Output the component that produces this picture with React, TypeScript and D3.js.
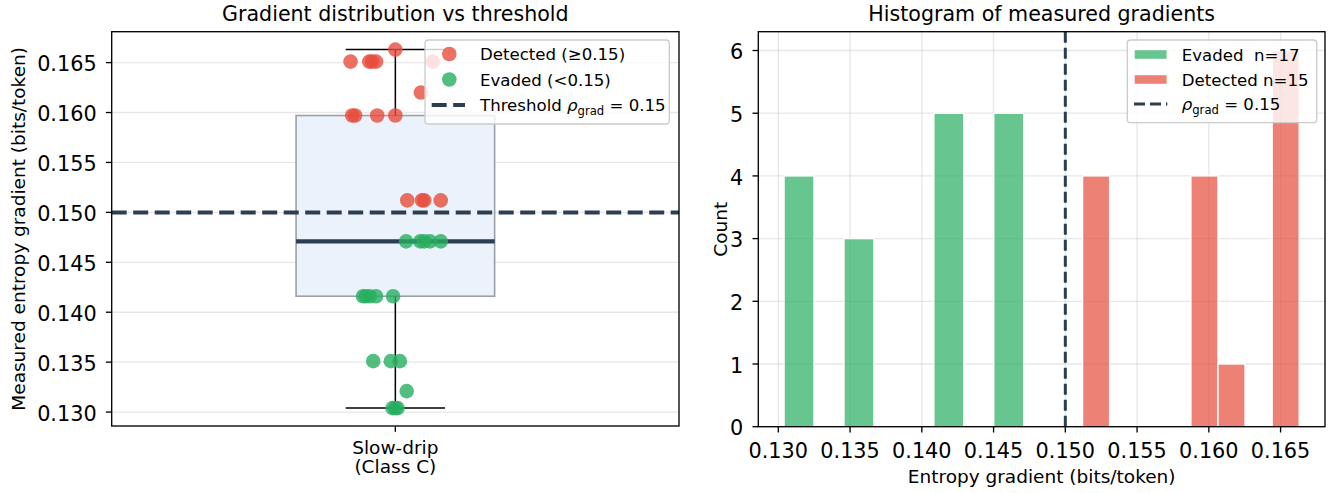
import React from "react";
import * as d3 from "d3";

// ---------------- data
const detectedVals = [0.1663, 0.1651, 0.1651, 0.1651, 0.1651, 0.1651, 0.1620, 0.1597, 0.1597, 0.1597, 0.1597, 0.1512, 0.1512, 0.1512, 0.1512];
const detectedJitter = [0.0, -0.079, -0.046, -0.041, -0.034, 0.066, 0.045, -0.076, -0.071, -0.032, 0.0, 0.021, 0.047, 0.051, 0.080];
const evadedVals = [0.1471, 0.1471, 0.1471, 0.1471, 0.1471, 0.1416, 0.1416, 0.1416, 0.1416, 0.1416, 0.1351, 0.1351, 0.1351, 0.1321, 0.1304, 0.1304, 0.1304];
const evadedJitter = [0.019, 0.044, 0.051, 0.061, 0.080, -0.057, -0.052, -0.045, -0.034, -0.004, -0.039, -0.008, 0.008, 0.020, -0.005, 0.0, 0.004];
const threshold = 0.15;
const gradTicks = [0.130, 0.135, 0.140, 0.145, 0.150, 0.155, 0.160, 0.165];
const countTicks = [0, 1, 2, 3, 4, 5, 6];
const histBins = 8;

// colours
const RED = "#e74c3c";
const GREEN = "#27ae60";
const NAVY = "#2c3e50";
const FONT = "DejaVu Sans";

// basic layout
const W = 1335, H = 493;
const L = { x0: 111.7, x1: 679, y0: 31.7, y1: 426 };
const R = { x0: 758.3, x1: 1325, y0: 31.7, y1: 426.7 };
const TICK = 5.8;
const TICK_FS = 20.8;

const allVals = [...evadedVals, ...detectedVals];
const [vMin, vMax] = d3.extent(allVals) as [number, number];
const pad = (vMax - vMin) * 0.05;

const yL = d3.scaleLinear().domain([vMin - pad, vMax + pad]).range([L.y1, L.y0]);
const xL = d3.scaleLinear().domain([0.5, 1.5]).range([L.x0, L.x1]);
const xR = d3.scaleLinear().domain([vMin - pad, vMax + pad]).range([R.x0, R.x1]);

// histogram like matplotlib: equal bins over each group's own range
function makeBins(vals: number[]) {
  const ext = d3.extent(vals) as [number, number];
  const step = (ext[1] - ext[0]) / histBins;
  return d3.bin().domain(ext).thresholds(d3.range(1, histBins).map(i => ext[0] + i * step))(vals);
}
const evadedBins = makeBins(evadedVals);
const detectedBins = makeBins(detectedVals);
const maxCount = d3.max([...evadedBins, ...detectedBins], b => b.length) as number;
const yR = d3.scaleLinear().domain([0, maxCount * 1.05]).range([R.y1, R.y0]);

// box stats
const sorted = [...allVals].sort(d3.ascending);
const q1 = d3.quantile(sorted, 0.25) as number;
const med = d3.quantile(sorted, 0.5) as number;
const q3 = d3.quantile(sorted, 0.75) as number;

const Rho = ({ size }: { size: number }) => (
  <>
    <tspan fontStyle="italic">ρ</tspan>
    <tspan fontSize={size * 0.7} dy={size * 0.25}>grad</tspan>
    <tspan dy={-size * 0.25}> = 0.15</tspan>
  </>
);

function LeftPanel() {
  const bx0 = xL(1 - 0.175), bx1 = xL(1 + 0.175);
  const cx0 = xL(1 - 0.0875), cx1 = xL(1 + 0.0875);
  const cx = xL(1);
  return (
    <g>
      {/* grid */}
      {gradTicks.map(t => (
        <line key={t} x1={L.x0} x2={L.x1} y1={yL(t)} y2={yL(t)} stroke="#b0b0b0" strokeOpacity={0.3} strokeWidth={1.33} />
      ))}
      {/* box */}
      <rect x={bx0} y={yL(q3)} width={bx1 - bx0} height={yL(q1) - yL(q3)} fill="#ebf2fb" stroke="#9aa0a6" strokeWidth={1.6} />
      <line x1={bx0} x2={bx1} y1={yL(med)} y2={yL(med)} stroke={NAVY} strokeWidth={4.2} />
      <line x1={cx} x2={cx} y1={yL(q3)} y2={yL(vMax)} stroke="black" strokeWidth={1.5} />
      <line x1={cx} x2={cx} y1={yL(q1)} y2={yL(vMin)} stroke="black" strokeWidth={1.5} />
      <line x1={cx0} x2={cx1} y1={yL(vMax)} y2={yL(vMax)} stroke="black" strokeWidth={1.5} />
      <line x1={cx0} x2={cx1} y1={yL(vMin)} y2={yL(vMin)} stroke="black" strokeWidth={1.5} />
      {/* threshold */}
      <line x1={L.x0} x2={L.x1} y1={yL(threshold)} y2={yL(threshold)} stroke={NAVY} strokeWidth={4} strokeDasharray="15 6.5" />
      {/* points */}
      {detectedVals.map((v, i) => (
        <circle key={"d" + i} cx={xL(1 + detectedJitter[i])} cy={yL(v)} r={7.3} fill={RED} fillOpacity={0.8} />
      ))}
      {evadedVals.map((v, i) => (
        <circle key={"e" + i} cx={xL(1 + evadedJitter[i])} cy={yL(v)} r={7.3} fill={GREEN} fillOpacity={0.8} />
      ))}
      {/* frame */}
      <rect x={L.x0} y={L.y0} width={L.x1 - L.x0} height={L.y1 - L.y0} fill="none" stroke="black" strokeWidth={1.33} />
      {/* y ticks */}
      {gradTicks.map(t => (
        <g key={t}>
          <line x1={L.x0 - TICK} x2={L.x0} y1={yL(t)} y2={yL(t)} stroke="black" strokeWidth={1.33} />
          <text x={L.x0 - 15} y={yL(t)} dy="0.42em" textAnchor="end" fontSize={TICK_FS}>{d3.format(".3f")(t)}</text>
        </g>
      ))}
      {/* x tick */}
      <line x1={cx} x2={cx} y1={L.y1} y2={L.y1 + TICK} stroke="black" strokeWidth={1.33} />
      <text x={cx} y={454} textAnchor="middle" fontSize={18.5}>Slow-drip</text>
      <text x={cx} y={473} textAnchor="middle" fontSize={18.5}>(Class C)</text>
      {/* labels */}
      <text transform={`translate(25,${(L.y0 + L.y1) / 2}) rotate(-90)`} textAnchor="middle" fontSize={18.5}>Measured entropy gradient (bits/token)</text>
      <text x={(L.x0 + L.x1) / 2} y={20.5} textAnchor="middle" fontSize={20.6}>Gradient distribution vs threshold</text>
      {/* legend */}
      <g>
        <rect x={425} y={40} width={244.3} height={84} rx={3.3} fill="white" fillOpacity={0.8} stroke="#cccccc" strokeWidth={1.33} />
        <circle cx={449.3} cy={54} r={7.3} fill={RED} fillOpacity={0.8} />
        <text x={480} y={60} fontSize={16.6}>Detected (≥0.15)</text>
        <circle cx={449.3} cy={79.5} r={7.3} fill={GREEN} fillOpacity={0.8} />
        <text x={480} y={85.5} fontSize={16.6}>Evaded (&lt;0.15)</text>
        <line x1={431.7} x2={465} y1={105} y2={105} stroke={NAVY} strokeWidth={4} strokeDasharray="15 6.5" />
        <text x={480} y={111} fontSize={16.6}>Threshold <Rho size={16.6} /></text>
      </g>
    </g>
  );
}

function RightPanel() {
  const bar = (b: d3.Bin<number, number>, color: string, k: string) =>
    b.length > 0 ? (
      <rect key={k} x={xR(b.x0 as number)} y={yR(b.length)} width={xR(b.x1 as number) - xR(b.x0 as number)} height={R.y1 - yR(b.length)}
        fill={color} fillOpacity={0.7} stroke="white" strokeWidth={1.4} />
    ) : null;
  return (
    <g>
      {/* grid */}
      {gradTicks.map(t => (
        <line key={"gx" + t} x1={xR(t)} x2={xR(t)} y1={R.y0} y2={R.y1} stroke="#b0b0b0" strokeOpacity={0.3} strokeWidth={1.33} />
      ))}
      {countTicks.map(t => (
        <line key={"gy" + t} x1={R.x0} x2={R.x1} y1={yR(t)} y2={yR(t)} stroke="#b0b0b0" strokeOpacity={0.3} strokeWidth={1.33} />
      ))}
      {evadedBins.map((b, i) => bar(b, GREEN, "e" + i))}
      {detectedBins.map((b, i) => bar(b, RED, "d" + i))}
      <line x1={xR(threshold)} x2={xR(threshold)} y1={R.y0} y2={R.y1} stroke={NAVY} strokeWidth={3} strokeDasharray="11 5" />
      <rect x={R.x0} y={R.y0} width={R.x1 - R.x0} height={R.y1 - R.y0} fill="none" stroke="black" strokeWidth={1.33} />
      {gradTicks.map(t => (
        <g key={t}>
          <line x1={xR(t)} x2={xR(t)} y1={R.y1} y2={R.y1 + TICK} stroke="black" strokeWidth={1.33} />
          <text x={xR(t)} y={457.5} textAnchor="middle" fontSize={TICK_FS}>{d3.format(".3f")(t)}</text>
        </g>
      ))}
      {countTicks.map(t => (
        <g key={t}>
          <line x1={R.x0 - TICK} x2={R.x0} y1={yR(t)} y2={yR(t)} stroke="black" strokeWidth={1.33} />
          <text x={R.x0 - 15} y={yR(t)} dy="0.42em" textAnchor="end" fontSize={TICK_FS}>{t}</text>
        </g>
      ))}
      <text transform={`translate(727,${(R.y0 + R.y1) / 2}) rotate(-90)`} textAnchor="middle" fontSize={18.5}>Count</text>
      <text x={(R.x0 + R.x1) / 2} y={483} textAnchor="middle" fontSize={18.5}>Entropy gradient (bits/token)</text>
      <text x={(R.x0 + R.x1) / 2} y={20.5} textAnchor="middle" fontSize={20.6}>Histogram of measured gradients</text>
      {/* legend */}
      <g>
        <rect x={1127.3} y={40} width={189.4} height={82.7} rx={3.3} fill="white" fillOpacity={0.8} stroke="#cccccc" strokeWidth={1.33} />
        <rect x={1134} y={49.5} width={33.3} height={10} fill={GREEN} fillOpacity={0.7} stroke="white" strokeWidth={1.4} />
        <text x={1181.7} y={60.5} fontSize={16.6} style={{ whiteSpace: "pre" }}>{"Evaded  n=17"}</text>
        <rect x={1134} y={74.5} width={33.3} height={10} fill={RED} fillOpacity={0.7} stroke="white" strokeWidth={1.4} />
        <text x={1181.7} y={85.5} fontSize={16.6}>Detected n=15</text>
        <line x1={1134} x2={1167.3} y1={104} y2={104} stroke={NAVY} strokeWidth={3} strokeDasharray="11 5" />
        <text x={1181.7} y={110} fontSize={16.6}><Rho size={16.6} /></text>
      </g>
    </g>
  );
}

export default function App() {
  return (
    <svg width={W} height={H} style={{ position: "absolute", left: 0, top: 0, background: "white" }} fontFamily={FONT} fill="black">
      <LeftPanel />
      <RightPanel />
    </svg>
  );
}
